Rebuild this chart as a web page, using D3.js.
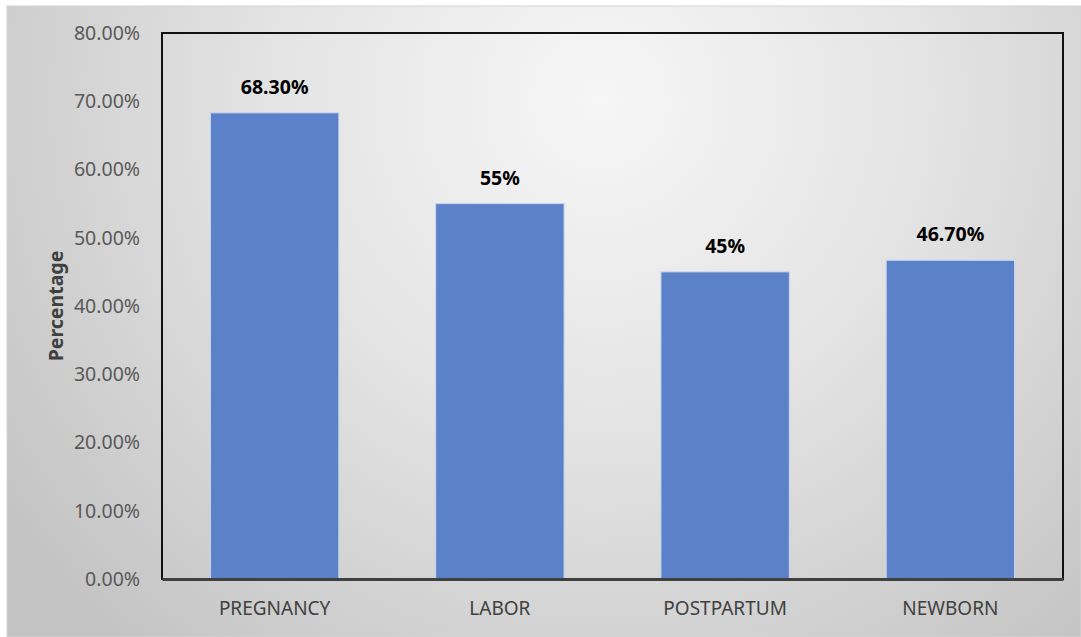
<!DOCTYPE html>
<html lang="en">
<head>
    <meta charset="UTF-8">
    <title>Percentage</title>
    <script src="https://cdn.jsdelivr.net/npm/d3@7"></script>
    <style>
        body { margin: 0; }
        text { font-family: "Noto Sans", "Open Sans", sans-serif; }
    </style>
</head>
<body>
    <script>
    // data
        var categories = ["PREGNANCY", "LABOR", "POSTPARTUM", "NEWBORN"];
        var values = [0.683, 0.55, 0.45, 0.467];
        var valueLabels = ["68.30%", "55%", "45%", "46.70%"];
        var yTicks = [0, 0.1, 0.2, 0.3, 0.4, 0.5, 0.6, 0.7, 0.8];

        var width = 1081;
        var height = 637;
        var margin = {left: 162, top: 33, right: 18, bottom: 58};

        var svg = d3.select("body")
                .append("svg")
                .attr("width", width)
                .attr("height", height);

    // background gradient
        var defs = svg.append("defs");
        var grad = defs.append("radialGradient")
                .attr("id", "bg")
                .attr("gradientUnits", "userSpaceOnUse")
                .attr("cx", 600).attr("cy", 100).attr("r", 720);
        grad.append("stop").attr("offset", "0%").attr("stop-color", "#f6f6f6");
        grad.append("stop").attr("offset", "45%").attr("stop-color", "#e4e4e4");
        grad.append("stop").attr("offset", "100%").attr("stop-color", "#c4c4c4");

        svg.append("rect").attr("width", width).attr("height", height).attr("fill", "#ffffff");
        svg.append("rect")
                .attr("x", 7).attr("y", 6)
                .attr("width", width - 7).attr("height", height - 6)
                .attr("fill", "url(#bg)")
                .attr("stroke", "#d4d4d4")
                .attr("stroke-width", 1);

        var x = d3.scaleBand()
                .domain(categories)
                .range([margin.left, width - margin.right])
                .paddingInner(0.43)
                .paddingOuter(0.215);

        var y = d3.scaleLinear()
                .domain([0, 0.8])
                .range([height - margin.bottom, margin.top]);

    // plot border
        svg.append("rect")
                .attr("x", margin.left)
                .attr("y", margin.top)
                .attr("width", width - margin.left - margin.right)
                .attr("height", height - margin.top - margin.bottom)
                .attr("fill", "none")
                .attr("stroke", "#111")
                .attr("stroke-width", 2);

    // bars
        svg.selectAll(".bar")
                .data(values)
                .enter()
                .append("rect")
                .attr("class", "bar")
                .attr("x", function(d, i){ return x(categories[i]); })
                .attr("y", function(d){ return y(d); })
                .attr("width", x.bandwidth())
                .attr("height", function(d){ return y(0) - y(d); })
                .attr("fill", "#5b82c8")
                .attr("stroke", "#c9d6ee")
                .attr("stroke-width", 1);

    // value labels
        svg.selectAll(".vlabel")
                .data(values)
                .enter()
                .append("text")
                .attr("class", "vlabel")
                .attr("x", function(d, i){ return x(categories[i]) + x.bandwidth() / 2; })
                .attr("y", function(d){ return y(d) - 19; })
                .attr("text-anchor", "middle")
                .attr("font-size", 19.5)
                .attr("font-weight", "bold")
                .attr("fill", "#000")
                .text(function(d, i){ return valueLabels[i]; });

    // y axis
        var yAxis = d3.axisLeft(y)
                .tickValues(yTicks)
                .tickSize(0)
                .tickPadding(22)
                .tickFormat(d3.format(".2%"));
        var gy = svg.append("g")
                .attr("transform", "translate(" + margin.left + ",0)")
                .call(yAxis);
        gy.select(".domain").remove();
        gy.selectAll("text")
                .attr("font-size", 19.5)
                .attr("fill", "#595959")
                .style("font-family", "'Noto Sans', sans-serif");

    // x axis
        var xAxis = d3.axisBottom(x).tickSize(0).tickPadding(23);
        var gx = svg.append("g")
                .attr("transform", "translate(0," + (height - margin.bottom) + ")")
                .call(xAxis);
        gx.select(".domain")
                .attr("stroke", "#404040")
                .attr("stroke-width", 3);
        gx.selectAll("text")
                .attr("font-size", 19)
                .attr("fill", "#404040")
                .style("font-family", "'Noto Sans', sans-serif");

    // axis title
        svg.append("text")
                .attr("transform", "translate(63," + ((margin.top + height - margin.bottom) / 2) + ") rotate(-90)")
                .attr("text-anchor", "middle")
                .attr("font-size", 19.5)
                .attr("font-weight", "bold")
                .attr("fill", "#404040")
                .text("Percentage");
    </script>
</body>
</html>
